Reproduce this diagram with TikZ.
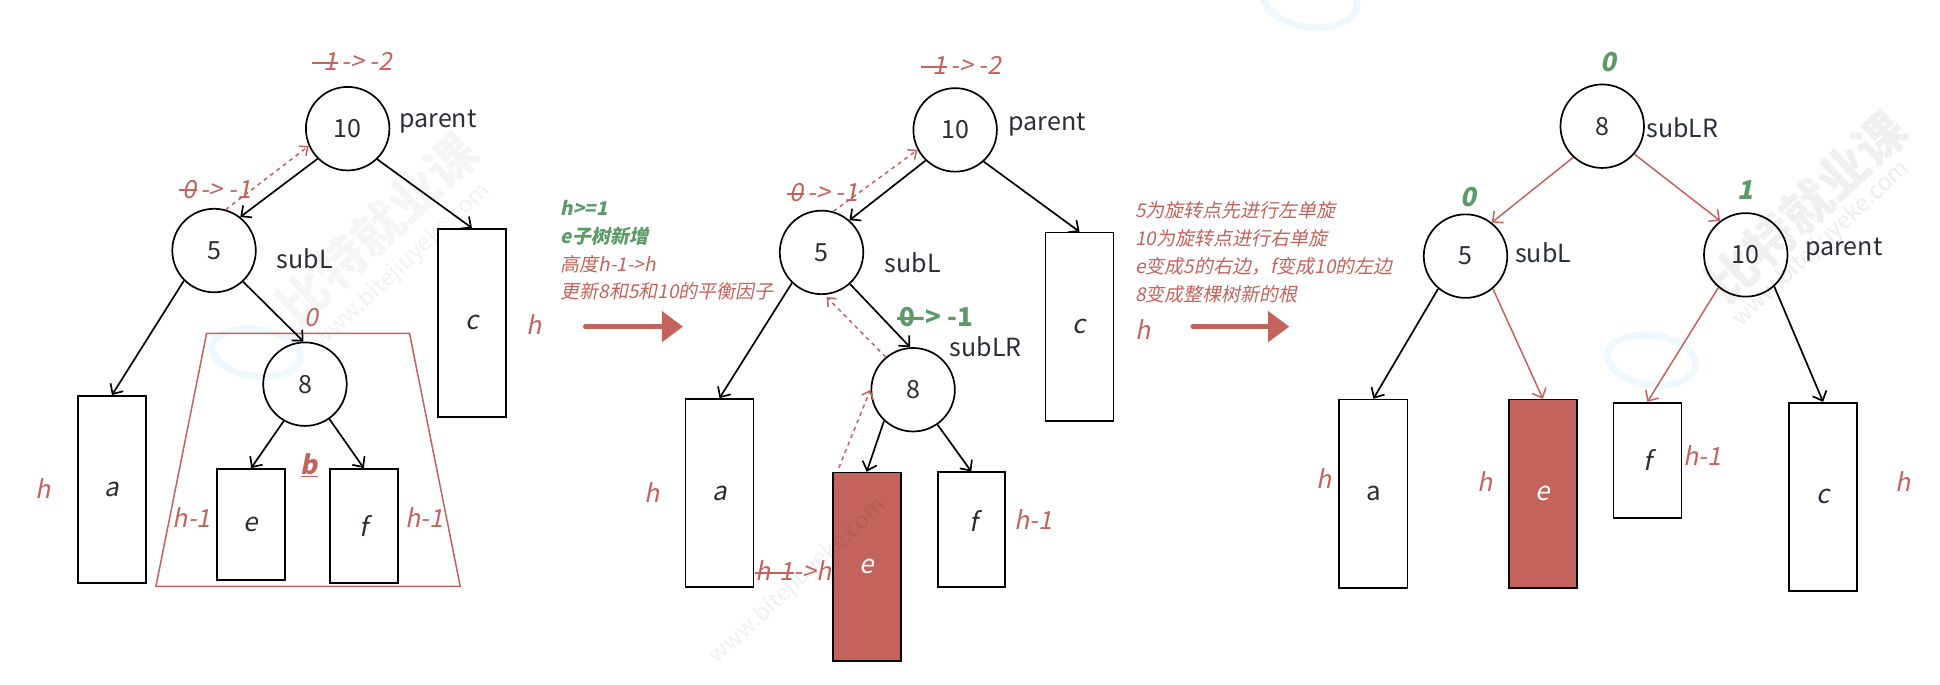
\documentclass[tikz,border=0pt]{standalone}
\usepackage{fontspec}
\setmainfont{Noto Sans CJK SC}
\newfontfamily\slantfont[FakeSlant=0.2]{Noto Sans CJK SC}
\usetikzlibrary{arrows.meta}
\definecolor{rd}{HTML}{C4635C}
\definecolor{grn}{HTML}{5C9A68}
\definecolor{ink}{HTML}{2A2E38}
\definecolor{swirl}{HTML}{EFF8FC}
\def\U{1.2372pt}
\newcommand\strk[2][0.12em]{\setbox0\hbox{#2}\rlap{\kern-#1\vrule width \dimexpr\wd0+\dimexpr#1\relax+0.03em\relax height 0.36em depth -0.28em}\box0}
\newcommand\fs[1]{\fontsize{#1}{#1}\selectfont}
\tikzset{
  nd/.style={circle,draw=black,line width=1.7pt,fill=white,minimum size=67.5*\U,inner sep=0pt,text=ink,font=\fs{25}},
  rb/.style={rectangle,draw=black,line width=1.7pt,fill=white,inner sep=0pt,text=ink,font=\fs{26}\slantfont},
  rbfill/.style={rb,fill=rd,text=white},
  nm/.style={anchor=west,inner sep=0pt,text=ink,font=\fs{25}},
  rl/.style={inner sep=0pt,text=rd,font=\fs{25}\slantfont},
  gl/.style={inner sep=0pt,text=grn,font=\fs{26}\slantfont\bfseries},
  note/.style={anchor=west,inner sep=0pt,text=rd,font=\fs{19}\slantfont},
  gnote/.style={anchor=west,inner sep=0pt,text=grn,font=\fs{19}\slantfont\bfseries},
  ar/.style={-{Straight Barb[length=8pt,width=15pt,line width=1.7pt]},line width=1.7pt,black},
  arr/.style={ar,rd,-{Straight Barb[length=8pt,width=15pt,line width=1.5pt]},line width=1.5pt},
  dsh/.style={rd,line width=1.5pt,dash pattern=on 4pt off 4pt,-{Straight Barb[length=7pt,width=12pt,line width=1.5pt]}},
  big/.style={rd,line width=4.5pt,line cap=round,-{Triangle[length=21pt,width=30pt]}},
  wm/.style={inner sep=0pt,text=black,opacity=0.06,font=\fs{50}\bfseries,rotate=43},
  wm2/.style={inner sep=0pt,text=black,opacity=0.07,font=\fs{23},rotate=43},
  logo/.style={draw=swirl,line width=7pt}
}
\begin{document}
\begin{tikzpicture}[x=1.2372pt,y=-1.2372pt]
\useasboundingbox (0,0) rectangle (1568,553);
\fill[white] (0,0) rectangle (1568,553);
% watermarks
\draw[logo,rotate around={-8:(207,285)}] (207,285) ellipse (36 and 19);
\draw[logo,rotate around={-8:(1059,0)}] (1059,0) ellipse (38 and 22);
\draw[logo,rotate around={-8:(1335,291)}] (1335,291) ellipse (36 and 20);
\node[wm,opacity=0.04] (w1) at (305,185) {比特就业课};
\node[wm2,opacity=0.05] (w1b) at (325,215) {www.bitejiuyeke.com};
\node[wm] (w3) at (1460,167) {比特就业课};
\node[wm2] (w3b) at (1472,197) {www.bitejiuyeke.com};

% ===== panel 1
\draw[rd,line width=1.5pt] (167,269.5) -- (331,269.5) -- (372,474) -- (126,474) -- cycle;
\node[nd] (p10) at (281,104) {10};
\node[nd] (p5) at (173,202.5) {5};
\node[nd,fill=none] (p8) at (246.5,310.5) {8};
\node[rb,minimum width=55*\U,minimum height=151*\U] (pa) at (90.5,395.5) {a};
\node[rb,minimum width=55*\U,minimum height=152*\U] (pc) at (381.5,261) {c};
\node[rb,minimum width=55*\U,minimum height=90*\U] (pe) at (203,424) {e};
\node[rb,minimum width=55*\U,minimum height=92*\U] (pf) at (294,425) {f};
\draw[ar] (p10.225) -- (p5.52);
\draw[ar] (p10.314) -- (pc.north);
\draw[ar] (p5.225) -- (pa.north);
\draw[ar] (p5.313) -- (p8.92);
\draw[ar] (p8.240) -- (pe.north);
\draw[ar] (p8.305) -- (pf.north);
\draw[dsh] (p5.74) -- (p10.204);
\node[nm] (tpar1) at (322.7,98) {parent};
\node[nm] (tsub1) at (223.7,209) {subL};
\node[rl] (t1a) at (286,50) {\strk{-1}\,-> -2};
\node[rl] (t1b) at (175,153) {\strk{0}\,-> -1};
\node[rl] (t1c) at (252,257) {0};
\node[rl] (t1d) at (35,395) {h};
\node[rl] (t1e) at (432,262) {h};
\node[rl] (t1f) at (155,418) {h-1};
\node[rl] (t1g) at (343,418) {h-1};
\node[gl,text=rd] (t1h) at (250,376) {\underline{b}};

% middle notes 1
\node[gnote] (n1) at (453,168.3) {h>=1};
\node[gnote] (n2) at (453,190.8) {e子树新增};
\node[note] (n3) at (453,213.4) {高度h-1->h};
\node[note] (n4) at (453,235.8) {更新8和5和10的平衡因子};
\coordinate (a1s) at (473,264);
\coordinate (a1e) at (552,264);
\draw[big] (a1s) -- (a1e);

% ===== panel 2
\node[nd] (q10) at (772,105) {10};
\node[nd] (q5) at (664,204) {5};
\node[nd] (q8) at (738,315) {8};
\node[rb,minimum width=55*\U,minimum height=152*\U] (qa) at (581.5,398.5) {a};
\node[rb,minimum width=55*\U,minimum height=152*\U] (qc) at (872.5,264) {c};
\node[rbfill,minimum width=55*\U,minimum height=152*\U] (qe) at (700.5,458) {e};
\node[rb,minimum width=54*\U,minimum height=92.5*\U] (qf) at (785,428) {};
\node[inner sep=0pt,text=ink,font=\fs{26}\slantfont] (qft) at (787,421) {f};
\coordinate (qes) at (678,378);
\node[wm2,opacity=0.06] (w2b) at (645,470) {www.bitejiuyeke.com};
\draw[ar] (q10.226) -- (q5.49);
\draw[ar] (q10.312) -- (qc.north);
\draw[ar] (q5.226) -- (qa.north);
\draw[ar] (q5.312) -- (q8.94);
\draw[ar] (q8.227) -- (qe.north);
\draw[ar] (q8.305) -- (qf.north);
\draw[dsh] (q5.74) -- (q10.208);
\draw[dsh,shorten >=3pt] (q8.130) -- (q5.274);
\draw[dsh] (qes) -- (q8.180);
\node[nm] (tpar2) at (815,101) {parent};
\node[nm] (tsub2) at (715,212) {subL};
\node[nm] (tsublr) at (767.5,280) {subLR};
\node[rl] (t2a) at (778,53) {\strk{-1}\,-> -2};
\node[rl] (t2b) at (666,156) {\strk{0}\,-> -1};
\node[gl,font=\fs{26}\bfseries] (t2c) at (757,256.5) {\strk{0}-> -1};
\node[rl] (t2d) at (527,398) {h};
\node[rl] (t2e) at (924,266) {h};
\node[rl] (t2f) at (835,420) {h-1};
\node[rl] (t2g) at (641.5,461.5) {\strk[0.05em]{h-1}->h};

% middle notes 2
\node[note] (m1) at (917.4,170.3) {5为旋转点先进行左单旋};
\node[note] (m2) at (917.4,192.6) {10为旋转点进行右单旋};
\node[note] (m3) at (917.4,215.6) {e变成5的右边，f变成10的左边};
\node[note] (m4) at (917.4,237.7) {8变成整棵树新的根};
\coordinate (a2s) at (964,264);
\coordinate (a2e) at (1042,264);
\draw[big] (a2s) -- (a2e);

% ===== panel 3
\node[nd] (r8) at (1295,102) {8};
\node[nd] (r5) at (1184.5,207) {5};
\node[nd,fill=none] (r10) at (1411,206) {10};
\node[rb,minimum width=55*\U,minimum height=152*\U,font=\fs{26}] (ra) at (1110,399) {a};
\node[rbfill,minimum width=55*\U,minimum height=152*\U] (re) at (1247,399) {e};
\node[rb,minimum width=55*\U,minimum height=93*\U] (rf) at (1331.5,372) {f};
\node[rb,minimum width=55*\U,minimum height=152*\U] (rc) at (1473.5,401.5) {c};
\draw[arr] (r8.227) -- (r5.52);
\draw[arr] (r8.319) -- (r10.127);
\draw[ar] (r5.230) -- (ra.north);
\draw[arr] (r5.310) -- (re.north);
\draw[arr] (r10.230) -- (rf.north);
\draw[ar] (r10.312) -- (rc.north);
\node[nm] (tsublr3) at (1330.5,103.5) {subLR};
\node[nm] (tsub3) at (1224.5,204) {subL};
\node[nm] (tpar3) at (1459,201.5) {parent};
\node[gl] (t3a) at (1300,50) {0};
\node[gl] (t3b) at (1187,159) {0};
\node[gl] (t3c) at (1411,153.5) {1};
\node[rl] (t3d) at (1070.5,387) {h};
\node[rl] (t3e) at (1200,389) {h};
\node[rl] (t3f) at (1376,368) {h-1};
\node[rl] (t3g) at (1538,389) {h};
\end{tikzpicture}
\end{document}
